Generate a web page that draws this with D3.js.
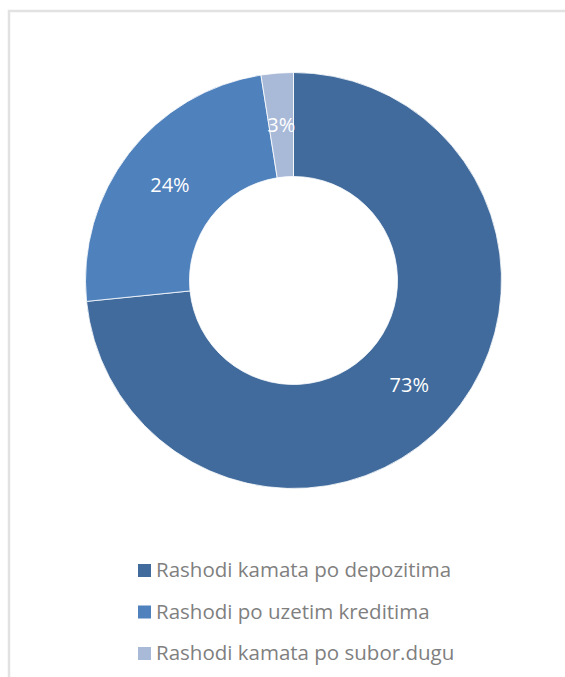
<!DOCTYPE html>
<html>
<head>
<meta charset="utf-8">
<script src="https://cdn.jsdelivr.net/npm/d3@7"></script>
<style>
  body { margin: 0; background: #fff; }
  svg { display: block; }
</style>
</head>
<body>
<script>
// data
let categories = ['Rashodi kamata po depozitima', 'Rashodi po uzetim kreditima', 'Rashodi kamata po subor.dugu'];
let values = [73.4, 24.1, 2.5];
let colors = ['#416b9c', '#4f81bd', '#a9b9d8'];

let width = 565;
let height = 677;
let cx = 293.5;
let cy = 280.5;
let outerR = 208;
let innerR = 104;

let svg = d3.select('body').append('svg')
   .attr('width', width)
   .attr('height', height);

// chart frame (light gray border, runs off right/bottom)
svg.append('rect')
   .attr('x', 9)
   .attr('y', 11)
   .attr('width', width + 10)
   .attr('height', height + 10)
   .attr('fill', 'none')
   .attr('stroke', '#e2e2e2')
   .attr('stroke-width', 2.5);

let total = d3.sum(values);
let pie = d3.pie().sort(null).value((d) => d);
let arc = d3.arc().innerRadius(innerR).outerRadius(outerR);

let g = svg.append('g').attr('transform', 'translate(' + cx + ',' + cy + ')');

let slices = g.selectAll('g.slice')
   .data(pie(values))
   .enter()
   .append('g')
   .attr('class', 'slice');

slices.append('path')
   .attr('d', arc)
   .attr('fill', (d, i) => colors[i])
   .attr('stroke', '#ffffff')
   .attr('stroke-width', 0.8);

slices.append('text')
   .attr('transform', (d) => 'translate(' + arc.centroid(d) + ')')
   .attr('text-anchor', 'middle')
   .attr('dy', '0.36em')
   .attr('fill', '#ffffff')
   .style('font-family', 'Open Sans, sans-serif')
   .style('font-size', '20px')
   .text((d) => Math.round(d.data / total * 100) + '%');

// legend
let legend = svg.append('g').attr('transform', 'translate(138, 0)');
let rows = legend.selectAll('g.item')
   .data(categories)
   .enter()
   .append('g')
   .attr('class', 'item')
   .attr('transform', (d, i) => 'translate(0,' + (570.5 + i * 41.5) + ')');

rows.append('rect')
   .attr('x', 0)
   .attr('y', -6.5)
   .attr('width', 13)
   .attr('height', 13)
   .attr('fill', (d, i) => colors[i]);

rows.append('text')
   .attr('x', 18)
   .attr('dy', '0.33em')
   .attr('fill', '#7f7f7f')
   .style('font-family', 'Open Sans, sans-serif')
   .style('font-size', '20.5px')
   .text((d) => d);
</script>
</body>
</html>
